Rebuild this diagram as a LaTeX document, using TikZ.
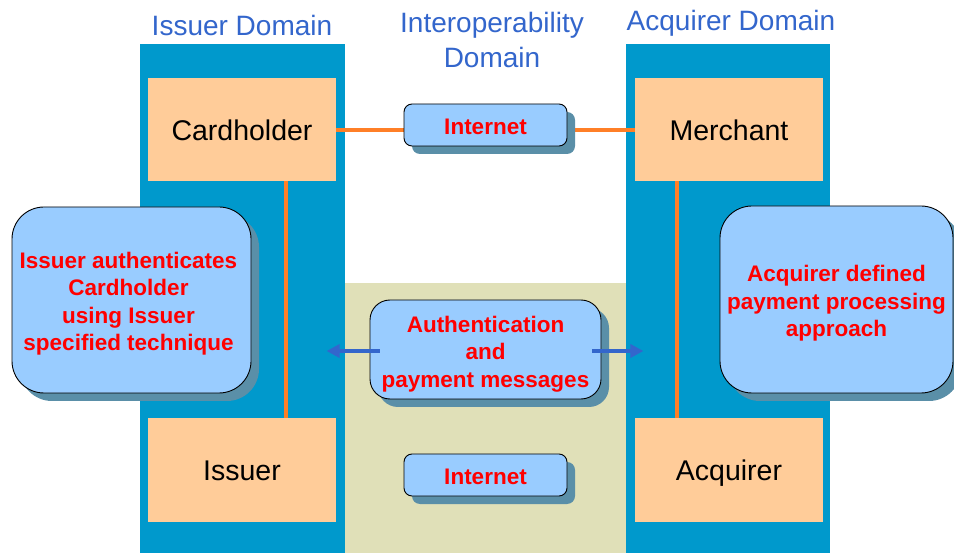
\documentclass[tikz,border=0pt]{standalone}
\usepackage{fontspec}
\setmainfont{Liberation Sans}
\usetikzlibrary{shadows,arrows.meta}
\definecolor{colblue}{HTML}{0099CC}
\definecolor{beige}{HTML}{E0E0B8}
\definecolor{peach}{HTML}{FFCC99}
\definecolor{linorange}{HTML}{FF7F27}
\definecolor{notefill}{HTML}{99CCFF}
\definecolor{shadowc}{HTML}{5A8FA8}
\definecolor{titleblue}{HTML}{3366CC}
\definecolor{arrowblue}{HTML}{3366CC}
\pgfdeclarelayer{bg}
\pgfdeclarelayer{mid}
\pgfsetlayers{bg,mid,main}
\tikzset{
  entity/.style={fill=peach, minimum width=188pt, minimum height=103pt, inner sep=0pt,
    text height=25pt, text depth=3pt, font=\fontsize{28.5}{32}\selectfont},
  title/.style={text=titleblue, align=center, font=\fontsize{28}{35}\selectfont, inner sep=0pt},
  note/.style={draw=black, line width=0.9pt, fill=notefill, inner sep=0pt,
    drop shadow={shadow xshift=8pt, shadow yshift=-8pt, fill=shadowc, opacity=1}},
  notetext/.style={align=center, inner sep=0pt, text=red,
    font=\fontsize{22.5}{27.5}\selectfont\bfseries},
  link/.style={draw=linorange, line width=3.5pt},
  arr/.style={draw=arrowblue, line width=3.5pt, -{Triangle[length=13pt,width=13pt]}}
}
\begin{document}
\begin{tikzpicture}[x=1pt,y=-1pt]
\useasboundingbox (0,0) rectangle (954,553);
\begin{pgfonlayer}{bg}
  \fill[white] (0,0) rectangle (954,553);
  \fill[colblue] (140,44) rectangle (345,553);
  \fill[colblue] (626,44) rectangle (830,553);
  \fill[beige] (345,283) rectangle (626,553);
\end{pgfonlayer}

\node[title] (t1) at (242,25) {Issuer Domain};
\node[title] (t2) at (492,40) {Interoperability\\Domain};
\node[title] (t3) at (731,23) {Acquirer Domain};

\node[entity] (cardholder) at (242,129.5) {Cardholder};
\node[entity] (merchant) at (729,129.5) {Merchant};
\node[entity] (issuer) at (242,470) {Issuer};
\node[entity] (acquirer) at (729,470) {Acquirer};

\node[note, rounded corners=8pt, minimum width=163pt, minimum height=42pt] (inet1) at (485.5,125) {};
\node[notetext] (inet1t) at ([yshift=-2pt]inet1.center) {Internet};
\node[note, rounded corners=8pt, minimum width=163pt, minimum height=42pt] (inet2) at (485.5,475) {};
\node[notetext] (inet2t) at ([yshift=-2pt]inet2.center) {Internet};
\node[note, rounded corners=20pt, minimum width=231pt, minimum height=99pt] (auth) at (485.5,349.5) {};
\node[notetext] (autht) at ([yshift=-4.5pt]auth.center) {Authentication\\and\\payment messages};
\node[note, rounded corners=32pt, minimum width=239pt, minimum height=186pt] (issnote) at (131.5,300) {};
\node[notetext] (issnotet) at ([xshift=-3pt,yshift=-3.5pt]issnote.center) {Issuer authenticates\\Cardholder\\using Issuer\\specified technique};
\node[note, rounded corners=32pt, minimum width=233pt, minimum height=187pt] (acqnote) at (836.5,299.5) {};
\node[notetext] (acqnotet) at ([yshift=-4pt]acqnote.center) {Acquirer defined\\payment processing\\approach};

\begin{pgfonlayer}{mid}
  \draw[link] ([yshift=-0.5pt]cardholder.east) -- ([yshift=-0.5pt]merchant.west);
  \draw[link] ([xshift=44pt]cardholder.south) -- ([xshift=44pt]issuer.north);
  \draw[link] ([xshift=-52pt]merchant.south) -- ([xshift=-52pt]acquirer.north);
\end{pgfonlayer}

\coordinate (la) at ([xshift=-43pt,yshift=-1.5pt]auth.west);
\coordinate (ra) at ([xshift=42pt,yshift=-1.5pt]auth.east);
\draw[arr] ([xshift=10pt,yshift=-1.5pt]auth.west) -- (la);
\draw[arr] ([xshift=-9pt,yshift=-1.5pt]auth.east) -- (ra);
\end{tikzpicture}
\end{document}
